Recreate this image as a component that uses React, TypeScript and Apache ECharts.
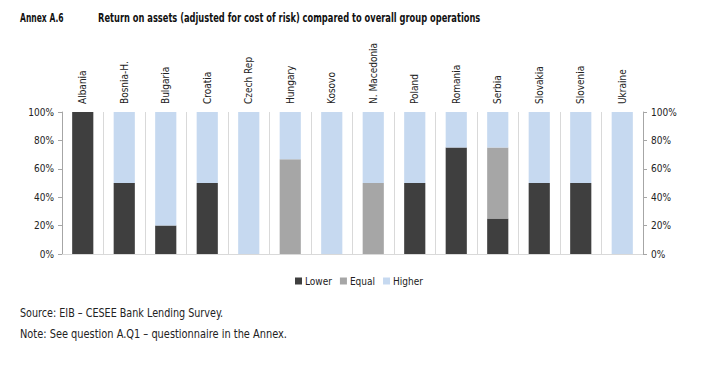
import React, { useEffect, useRef } from "react";
import * as echarts from "echarts";

const categories = ["Albania", "Bosnia-H.", "Bulgaria", "Croatia", "Czech Rep", "Hungary", "Kosovo", "N. Macedonia", "Poland", "Romania", "Serbia", "Slovakia", "Slovenia", "Ukraine"];
const lowerValues = [100, 50, 20, 50, 0, 0, 0, 0, 50, 75, 25, 50, 50, 0];
const equalValues = [0, 0, 0, 0, 0, 66.7, 0, 50, 0, 0, 50, 0, 0, 0];
const higherValues = [0, 50, 80, 50, 100, 33.3, 100, 50, 50, 25, 25, 50, 50, 100];
const yTicks = [0, 20, 40, 60, 80, 100];

const FONT = "'DejaVu Sans Condensed', 'Liberation Sans', sans-serif";

export default function App() {
  const ref = useRef<HTMLDivElement>(null);
  useEffect(() => {
    if (!ref.current) return;
    const chart = echarts.init(ref.current, undefined, { renderer: "svg" });
    const yAxisCommon = {
      type: "value" as const,
      min: yTicks[0],
      max: yTicks[yTicks.length - 1],
      interval: 20,
      axisLine: { show: true, lineStyle: { color: "#a6a6a6", width: 1 } },
      axisTick: { show: true, length: 4, lineStyle: { color: "#a6a6a6" } },
      splitLine: { show: false },
      axisLabel: { formatter: "{value}%", color: "#222", fontFamily: FONT, fontSize: 10, margin: 8 },
    };
    const txt = (x: number, y: number, text: string, size: number, sx: number, bold = false) => ({
      type: "text",
      x,
      y,
      scaleX: sx,
      style: { text, fontFamily: FONT, fontWeight: bold ? "bold" : "normal", fontSize: size, fill: bold ? "#111" : "#222", verticalAlign: "middle", textVerticalAlign: "middle" },
    });
    chart.setOption({
      animation: false,
      backgroundColor: "#ffffff",
      textStyle: { fontFamily: FONT },
      grid: { left: 62, right: 59, top: 112, bottom: 125 },
      legend: {
        data: ["Lower", "Equal", "Higher"],
        left: 290,
        top: 271,
        itemWidth: 7,
        itemHeight: 7,
        itemGap: 8,
        icon: "rect",
        textStyle: { fontFamily: FONT, fontSize: 10, color: "#222", padding: [0, 0, 0, -2] },
      },
      xAxis: [
        {
          type: "category",
          data: categories,
          position: "top",
          axisLine: { show: false },
          axisTick: { show: false },
          axisLabel: { rotate: 90, interval: 0, margin: 8, color: "#222", fontFamily: FONT, fontSize: 10 },
          splitLine: { show: true, interval: 0, lineStyle: { color: "#d9d9d9", width: 1 } },
        },
        {
          type: "category",
          data: categories,
          position: "bottom",
          axisLine: { show: true, lineStyle: { color: "#d9d9d9", width: 1 } },
          axisTick: { show: false },
          axisLabel: { show: false },
        },
      ],
      yAxis: [
        { ...yAxisCommon, position: "left" },
        { ...yAxisCommon, position: "right" },
      ],
      series: [
        { name: "Lower", type: "bar", stack: "s", data: lowerValues, barWidth: "51%", itemStyle: { color: "#3f3f3f" } },
        { name: "Equal", type: "bar", stack: "s", data: equalValues, barWidth: "51%", itemStyle: { color: "#a6a6a6" } },
        { name: "Higher", type: "bar", stack: "s", data: higherValues, barWidth: "51%", itemStyle: { color: "#c6d9f0" } },
      ],
      graphic: [
        txt(20, 18, "Annex A.6", 13, 0.65, true),
        txt(98, 18, "Return on assets (adjusted for cost of risk) compared to overall group operations", 13, 0.71, true),
        txt(20, 313, "Source: EIB \u2013 CESEE Bank Lending Survey.", 11.5, 0.93),
        txt(20, 334, "Note: See question A.Q1 \u2013 questionnaire in the Annex.", 11.5, 0.95),
      ],
    });
    return () => chart.dispose();
  }, []);
  return <div ref={ref} style={{ width: 702, height: 379, position: "absolute", left: 0, top: 0 }} />;
}
